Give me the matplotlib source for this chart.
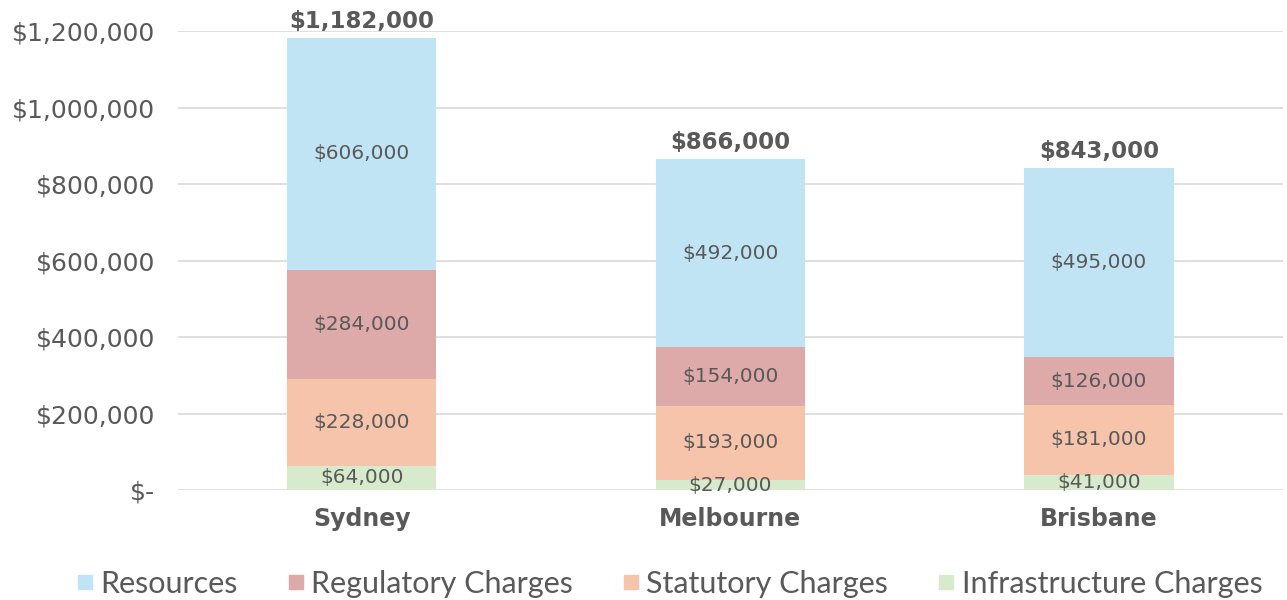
import matplotlib.pyplot as plt
from matplotlib.ticker import FuncFormatter
from matplotlib.lines import Line2D
import numpy as np

cities = ["Sydney", "Melbourne", "Brisbane"]
series = ["Infrastructure Charges", "Statutory Charges", "Regulatory Charges", "Resources"]
infrastructure = [64000, 27000, 41000]
statutory = [228000, 193000, 181000]
regulatory = [284000, 154000, 126000]
resources = [606000, 492000, 495000]
totals = [1182000, 866000, 843000]

colors = {
    "Resources": "#C1E4F5",
    "Regulatory Charges": "#DDA9A9",
    "Statutory Charges": "#F6C4AA",
    "Infrastructure Charges": "#D7EBCC",
}
text_color = "#595959"
plt.rcParams['font.family'] = ['DejaVu Sans']


def money(v, pos=None):
    if v == 0:
        return "$-"
    return "${:,.0f}".format(v)


def main():
    fig = plt.figure(figsize=(12.87, 6), dpi=100)
    ax = fig.add_axes([0.138, 0.183, 0.859, 0.765])
    x = np.arange(len(cities))
    values = {
        "Infrastructure Charges": infrastructure,
        "Statutory Charges": statutory,
        "Regulatory Charges": regulatory,
        "Resources": resources,
    }
    bottom = np.zeros(len(cities))
    for name in series:
        vals = np.array(values[name], dtype=float)
        ax.bar(x, vals, bottom=bottom, width=0.405, color=colors[name], zorder=2)
        for xi, b, v in zip(x, bottom, vals):
            ax.text(xi, b + v / 2, money(v), ha='center', va='center',
                    fontsize=14.5, color=text_color, zorder=3)
        bottom += vals

    for xi, t in zip(x, totals):
        ax.text(xi, t + 12000, money(t), ha='center', va='bottom', fontsize=16.5,
                fontweight='bold', color=text_color, clip_on=False)

    ax.set_xlim(-0.5, 2.5)
    ax.set_ylim(0, 1200000)
    ax.set_yticks(np.arange(0, 1200001, 200000))
    ax.yaxis.set_major_formatter(FuncFormatter(money))
    ax.set_xticks(x)
    ax.set_xticklabels(cities, fontsize=17, fontweight='bold', color=text_color)
    ax.tick_params(axis='y', labelsize=18, labelcolor=text_color, length=0, pad=16)
    ax.tick_params(axis='x', length=0, pad=12)
    ax.grid(axis='y', color='#D9D9D9', linewidth=1.2, zorder=0)
    ax.set_axisbelow(True)
    for s in ax.spines.values():
        s.set_visible(False)

    handles = [Line2D([], [], marker='s', linestyle='none', markersize=10,
                      color=colors[n]) for n in reversed(series)]
    fig.legend(handles, list(reversed(series)), loc='center', ncol=4,
               bbox_to_anchor=(0.52, 0.027), frameon=False,
               prop={'family': 'Lato', 'size': 22},
               labelcolor=text_color, handlelength=0.6, handletextpad=0.2,
               columnspacing=1.6)

    fig.savefig("out.png", dpi=100)


if __name__ == '__main__':
    main()
